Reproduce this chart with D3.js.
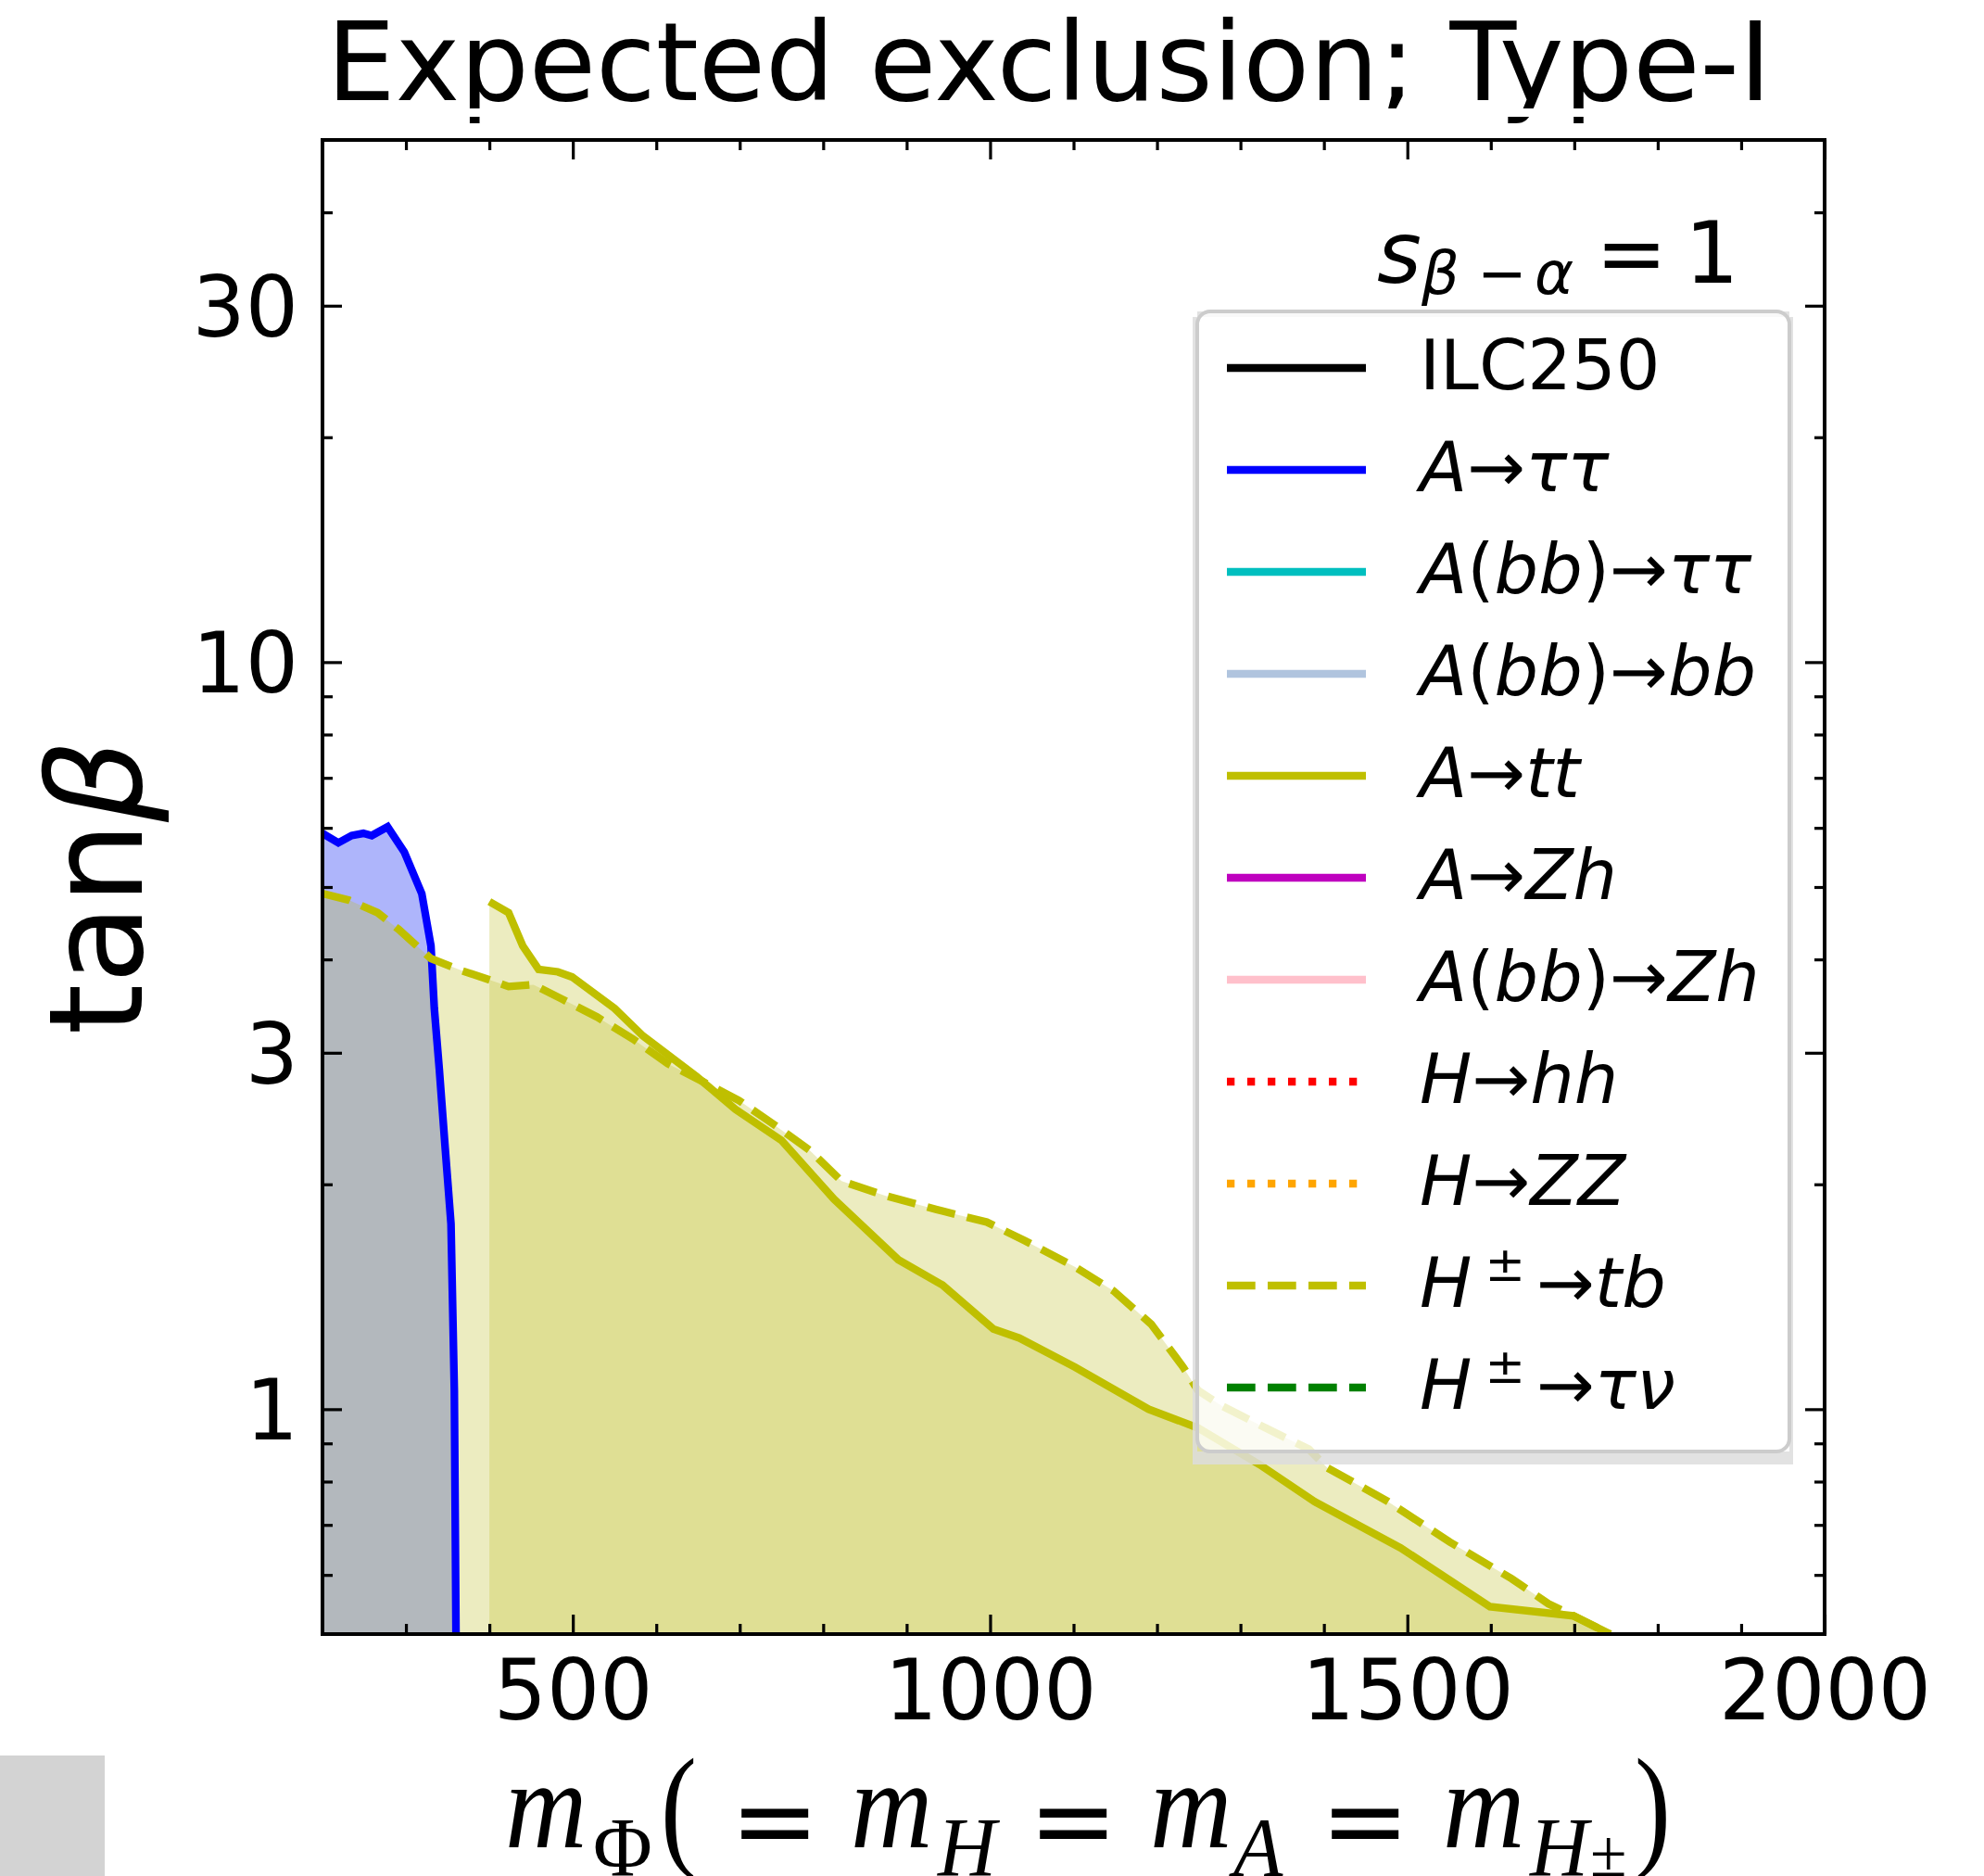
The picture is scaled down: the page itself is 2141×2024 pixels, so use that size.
<!DOCTYPE html>
<html>
<head>
<meta charset="utf-8">
<script src="https://cdn.jsdelivr.net/npm/d3@7"></script>
<style>
  body { margin: 0; background: #fff; }
  svg { display: block; }
</style>
</head>
<body>
<div id="chart"></div>
<script>
// values: [m_Phi, tan beta]
var tautauLine = [[200,5.90],[219,5.73],[235,5.86],[249,5.90],[259,5.86],[278,6.02],[298,5.57],[319,4.90],
                  [330,4.17],[334,3.44],[340,2.85],[347,2.24],[354,1.77],[358,1.06],[360,0.50]]
var ttLine = [[400,4.78],[423,4.62],[440,4.17],[459,3.88],[482,3.85],[499,3.79],[550,3.44],[584,3.16],
              [648,2.79],[695,2.52],[750,2.29],[813,1.91],[890,1.585],[943,1.466],[1004,1.28],[1035,1.245],
              [1102,1.138],[1190,1.0],[1249,0.944],[1323,0.843],[1389,0.752],[1492,0.652],[1599,0.544],
              [1699,0.529],[1743,0.5]]
var tbLine = [[200,4.90],[232,4.80],[266,4.62],[291,4.39],[330,4.01],[368,3.86],[402,3.75],[423,3.68],
              [453,3.70],[487,3.54],[529,3.35],[572,3.13],[614,2.90],[657,2.74],[699,2.59],[742,2.40],
              [784,2.22],[822,2.02],[875,1.93],[936,1.85],[996,1.78],[1042,1.68],[1102,1.55],[1148,1.44],
              [1193,1.30],[1231,1.14],[1249,1.06],[1278,1.01],[1330,0.944],[1382,0.884],[1404,0.835],
              [1477,0.752],[1551,0.664],[1625,0.593],[1669,0.549],[1699,0.529],[1743,0.50]]

var xMajor = [500, 1000, 1500, 2000]
var xMinor = [300, 400, 600, 700, 800, 900, 1100, 1200, 1300, 1400, 1600, 1700, 1800, 1900]
var yMajor = [1, 3, 10, 30]
var yMinor = [0.6, 0.7, 0.8, 0.9, 2, 4, 5, 6, 7, 8, 9, 20, 40]

var legendLabels = ["ILC250", "A→ττ", "A(bb)→ττ", "A(bb)→bb", "A→tt", "A→Zh", "A(bb)→Zh",
                    "H→hh", "H→ZZ", "H±→tb", "H±→τν"]
var legendColors = ["#000000", "#0000ff", "#00bfbf", "#b0c4de", "#bfbf00", "#bf00bf", "#ffc0cb",
                    "#ff0000", "#ffa500", "#bfbf00", "#008000"]
var legendDash = ["solid", "solid", "solid", "solid", "solid", "solid", "solid",
                  "dotted", "dotted", "dashed", "dashed"]

var W = 2141, H = 2024
var lw = 8.3
var dashes = {solid: null, dotted: "8.3,13.7", dashed: "30.7,13.3"}

var svg = d3.select("#chart").append("svg")
    .attr("width", W).attr("height", H)
    .style("background", "#fff")

var x = d3.scaleLinear().domain([200, 2000]).range([348, 1969])
var y = d3.scaleLog().domain([0.5, 50]).range([1763, 151])

svg.append("clipPath").attr("id", "plotclip")
  .append("rect")
    .attr("x", 348).attr("y", 151).attr("width", 1621).attr("height", 1612)

var plot = svg.append("g").attr("clip-path", "url(#plotclip)")

var area = d3.area()
    .x(function(d) { return x(d[0]) })
    .y0(y(0.5))
    .y1(function(d) { return y(d[1]) })
var line = d3.line()
    .x(function(d) { return x(d[0]) })
    .y(function(d) { return y(d[1]) })

// fills first, blue underneath the yellow ones
plot.append("path").datum(tautauLine).attr("d", area)
    .attr("fill", "#0a1ef2").attr("fill-opacity", 0.33)
plot.append("path").datum(tbLine).attr("d", area)
    .attr("fill", "#bfbf30").attr("fill-opacity", 0.3)
plot.append("path").datum(ttLine).attr("d", area)
    .attr("fill", "#bfbf30").attr("fill-opacity", 0.3)

plot.append("path").datum(tautauLine).attr("d", line)
    .attr("fill", "none").attr("stroke", "#0000ff").attr("stroke-width", lw)
plot.append("path").datum(ttLine).attr("d", line)
    .attr("fill", "none").attr("stroke", "#bfbf00").attr("stroke-width", lw)
plot.append("path").datum(tbLine).attr("d", line)
    .attr("fill", "none").attr("stroke", "#bfbf00").attr("stroke-width", lw)
    .attr("stroke-dasharray", dashes.dashed)

// axes, ticks pointing inwards on all four sides
var styleAxis = function(g) {
    g.select(".domain").remove()
    g.attr("font-family", "DejaVu Sans").attr("font-size", 90)
    g.selectAll("line").attr("stroke", "#000").attr("stroke-width", 3.2)
    g.selectAll("text").attr("fill", "#000")
}

svg.append("g").attr("transform", "translate(0,1763)")
    .call(d3.axisBottom(x).tickValues(xMajor).tickSize(-21).tickPadding(28).tickFormat(d3.format("d")))
    .call(styleAxis)
svg.append("g").attr("transform", "translate(0,1763)")
    .call(d3.axisBottom(x).tickValues(xMinor).tickSize(-11).tickFormat(""))
    .call(styleAxis)
svg.append("g").attr("transform", "translate(0,151)")
    .call(d3.axisTop(x).tickValues(xMajor).tickSize(-21).tickFormat(""))
    .call(styleAxis)
svg.append("g").attr("transform", "translate(0,151)")
    .call(d3.axisTop(x).tickValues(xMinor).tickSize(-11).tickFormat(""))
    .call(styleAxis)

svg.append("g").attr("transform", "translate(348,0)")
    .call(d3.axisLeft(y).tickValues(yMajor).tickSize(-21).tickPadding(26).tickFormat(d3.format("d")))
    .call(styleAxis)
    .selectAll("text").attr("dy", "0.36em")
svg.append("g").attr("transform", "translate(348,0)")
    .call(d3.axisLeft(y).tickValues(yMinor).tickSize(-11).tickFormat(""))
    .call(styleAxis)
svg.append("g").attr("transform", "translate(1969,0)")
    .call(d3.axisRight(y).tickValues(yMajor).tickSize(-21).tickFormat(""))
    .call(styleAxis)
svg.append("g").attr("transform", "translate(1969,0)")
    .call(d3.axisRight(y).tickValues(yMinor).tickSize(-11).tickFormat(""))
    .call(styleAxis)

svg.append("rect")
    .attr("x", 348).attr("y", 151).attr("width", 1621).attr("height", 1612)
    .attr("fill", "none").attr("stroke", "#000").attr("stroke-width", 4)

// title, with the thin white band that splits the descenders
svg.append("text")
    .attr("x", 1132).attr("y", 108)
    .attr("text-anchor", "middle")
    .attr("font-family", "DejaVu Sans").attr("font-size", 117.5)
    .text("Expected exclusion; Type-I")
svg.append("rect").attr("x", 0).attr("y", 117).attr("width", W).attr("height", 9).attr("fill", "#fff")

// y label
var yl = svg.append("text")
    .attr("transform", "translate(153,957) rotate(-90)")
    .attr("text-anchor", "middle")
    .attr("font-family", "DejaVu Sans").attr("font-size", 140)
yl.append("tspan").text("tan")
yl.append("tspan").attr("font-style", "italic").text("β")

// x label, math style; glyphs squeezed a little like the stix ones
var xl = svg.append("g").attr("font-family", "Liberation Serif").attr("fill", "#000")
var piece = function(txt, px, py, size, italic, sx, family) {
    var t = xl.append("text")
        .attr("transform", "translate(" + px + "," + py + ") scale(" + sx + ",1)")
        .attr("font-size", size).text(txt)
    if (italic) t.attr("font-style", "italic")
    if (family) t.attr("font-family", family)
    return t
}
piece("m", 545, 1993, 136, true, 0.9)
piece("Φ", 640, 2024, 92, false, 0.95)
piece("(", 713, 1998, 146, false, 0.8)
piece("=", 788, 2004, 115, false, 1, "DejaVu Sans")
piece("m", 918, 1993, 136, true, 0.9)
piece("H", 1012, 2024, 92, true, 0.95)
piece("=", 1110, 2004, 115, false, 1, "DejaVu Sans")
piece("m", 1241, 1993, 136, true, 0.9)
piece("A", 1331, 2024, 92, true, 0.95)
piece("=", 1425, 2004, 115, false, 1, "DejaVu Sans")
piece("m", 1557, 1993, 136, true, 0.9)
piece("H", 1651, 2024, 92, true, 0.95)
piece("±", 1716, 2024, 72, false, 1)
piece(")", 1764, 1998, 146, false, 0.8)

// s_{beta-alpha} = 1
var sg = svg.append("g").attr("font-family", "DejaVu Sans").attr("fill", "#000")
sg.append("text").attr("x", 1486).attr("y", 305).attr("font-size", 92).attr("font-style", "italic").text("s")
sg.append("text").attr("x", 1534).attr("y", 317).attr("font-size", 64).attr("font-style", "italic").text("β")
sg.append("text").attr("x", 1594).attr("y", 317).attr("font-size", 64).text("−")
sg.append("text").attr("x", 1656).attr("y", 317).attr("font-size", 64).attr("font-style", "italic").text("α")
sg.append("text").attr("x", 1722).attr("y", 305).attr("font-size", 92).text("=")
sg.append("text").attr("x", 1818).attr("y", 305).attr("font-size", 92).text("1")

// legend box with its shadow round the edge
var lx = 1292, ly = 336, lwid = 639, lht = 1230
svg.append("path")
    .attr("d", "M" + (lx - 5) + "," + (ly + 6) + "h" + (lwid + 9) + "v" + (lht + 8) + "h" + (-(lwid + 9)) + "Z" +
               "M" + lx + "," + ly + "h" + lwid + "v" + lht + "h" + (-lwid) + "Z")
    .attr("fill-rule", "evenodd")
    .attr("fill", "#dddddd").attr("fill-opacity", 0.85)
svg.append("rect")
    .attr("x", lx).attr("y", ly).attr("width", lwid).attr("height", lht)
    .attr("rx", 14)
    .attr("fill", "#fff").attr("fill-opacity", 0.8)
    .attr("stroke", "#cccccc").attr("stroke-width", 4)

var leg = svg.append("g")
legendLabels.forEach(function(label, i) {
    var rowY = 397 + 110 * i
    var handle = leg.append("line")
        .attr("x1", 1324).attr("x2", 1474)
        .attr("y1", rowY).attr("y2", rowY)
        .attr("stroke", legendColors[i]).attr("stroke-width", lw)
    if (dashes[legendDash[i]]) handle.attr("stroke-dasharray", dashes[legendDash[i]])

    var t = leg.append("text")
        .attr("x", 1532).attr("y", rowY + 23)
        .attr("font-family", "DejaVu Sans").attr("font-size", 75)
    if (i == 0) { t.text(label); return }
    var raised = false
    Array.from(label).forEach(function(c) {
        var s = t.append("tspan").text(c)
        if (c == "±") {
            s.attr("font-size", 52).attr("dy", -28).attr("dx", 14)
            raised = true
            return
        }
        if (raised) { s.attr("dy", 28).attr("dx", 12); raised = false }
        if (/[A-Za-zα-ω]/.test(c)) s.attr("font-style", "italic")
    })
})

// grey square in the lower left corner
svg.append("rect").attr("x", 0).attr("y", 1894).attr("width", 113).attr("height", 130).attr("fill", "#d3d3d3")
</script>
</body>
</html>
